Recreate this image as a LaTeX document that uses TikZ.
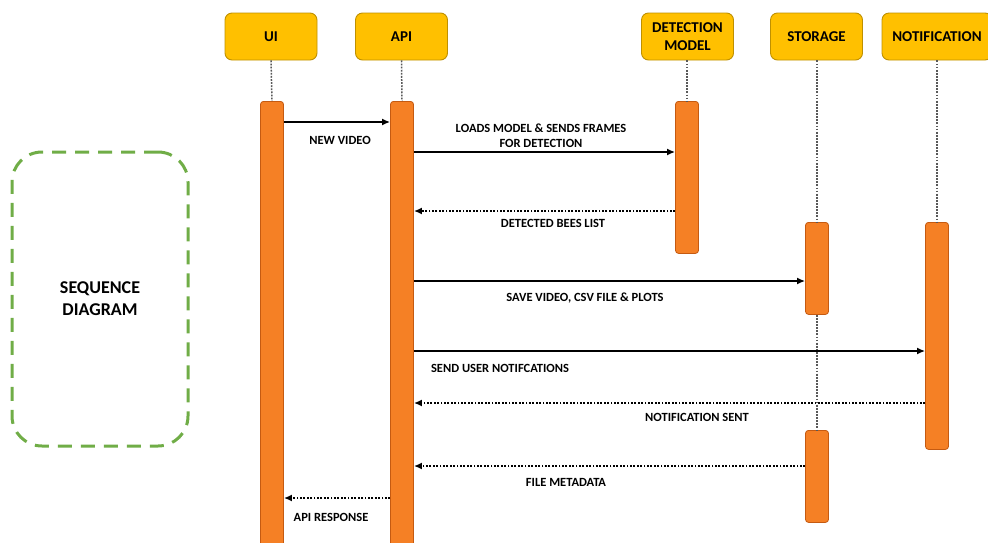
\documentclass[tikz,border=0pt]{standalone}
\usepackage{fontspec}
\setmainfont{Carlito}
\usetikzlibrary{arrows.meta,positioning}

\definecolor{boxfill}{HTML}{FFC000}
\definecolor{boxedge}{HTML}{BF9000}
\definecolor{barfill}{HTML}{F58025}
\definecolor{baredge}{HTML}{C55A11}
\definecolor{framegreen}{HTML}{70AD47}

\begin{document}
\begin{tikzpicture}[x=1pt,y=-1pt,
    actor/.style={draw=boxedge,fill=boxfill,rounded corners=7pt,line width=0.9pt,
        minimum width=92pt,minimum height=47pt,inner sep=2pt,align=center,
        font=\bfseries\fontsize{15}{16}\selectfont},
    bar/.style={draw=baredge,fill=barfill,rounded corners=3pt,line width=0.8pt,
        minimum width=23pt,inner sep=0pt,anchor=north},
    life/.style={draw=black!65,line width=1.5pt,dash pattern=on 1.8pt off 1.3pt},
    msg/.style={-{Latex[length=8pt,width=7pt]},line width=1.8pt},
    reply/.style={msg,dash pattern=on 1.8pt off 1.6pt},
    lbl/.style={align=center,font=\bfseries\fontsize{12.5}{15}\selectfont},
    frame/.style={draw=framegreen,line width=3pt,dash pattern=on 14pt off 9pt,
        rounded corners=30pt,minimum width=176pt,minimum height=294pt,
        align=center,font=\bfseries\fontsize{18}{22}\selectfont}]
    \useasboundingbox (0,0) rectangle (988,542);

    % participants
    \node[actor] (ui) at (271,36.5) {UI};
    \node[actor] (api) at (401.5,36.5) {API};
    \node[actor] (det) at (687.5,36.5) {DETECTION\\[2pt]MODEL};
    \node[actor] (sto) at (816.5,36.5) {STORAGE};
    \node[actor,minimum width=110pt] (note) at (937,36.5) {NOTIFICATION};

    % activation bars
    \node[bar,minimum height=450pt] (uibar) at (272,101) {};
    \node[bar,minimum height=450pt] (apibar) at (402,101) {};
    \node[bar,minimum height=152pt] (detbar) at (687,101) {};
    \node[bar,minimum height=92pt] (stobar) at (817,222) {};
    \node[bar,minimum height=92pt] (stobarb) at (817,430) {};
    \node[bar,minimum height=227pt] (notebar) at (937,222) {};

    % lifelines
    \draw[life] (ui.south) -- (uibar.north);
    \draw[life] (api.south) -- (apibar.north);
    \draw[life] (det.south -| detbar.north) -- (detbar.north);
    \draw[life] (sto.south -| stobar.north) -- (stobar.north);
    \draw[life] (stobar.south) -- (stobarb.north);
    \draw[life] (note.south) -- (notebar.north);

    % messages
    \draw[msg] (uibar.east |- 0,122) -- (apibar.west |- 0,122);
    \draw[msg] (apibar.east |- 0,152) -- (detbar.west |- 0,152);
    \draw[reply] (detbar.west |- 0,211) -- (apibar.east |- 0,211);
    \draw[msg] (apibar.east |- 0,281) -- (stobar.west |- 0,281);
    \draw[msg] (apibar.east |- 0,351) -- (notebar.west |- 0,351);
    \draw[reply] (notebar.west |- 0,403) -- (apibar.east |- 0,403);
    \draw[reply] (stobarb.west |- 0,466) -- (apibar.east |- 0,466);
    \draw[reply] (apibar.west |- 0,498) -- (uibar.east |- 0,498);

    % labels
    \node[lbl] (l1) at (340,140) {NEW VIDEO};
    \node[lbl] (l2) at (541,135.5) {LOADS MODEL \& SENDS FRAMES\\FOR DETECTION};
    \node[lbl] (l3) at (553,223) {DETECTED BEES LIST};
    \node[lbl] (l4) at (585,298) {SAVE VIDEO, CSV FILE \& PLOTS};
    \node[lbl] (l5) at (500,368) {SEND USER NOTIFCATIONS};
    \node[lbl] (l6) at (697,417) {NOTIFICATION SENT};
    \node[lbl] (l7) at (566,482) {FILE METADATA};
    \node[lbl] (l8) at (331,517) {API RESPONSE};

    % side frame
    \node[frame] (title) at (100,299) {SEQUENCE\\DIAGRAM};
\end{tikzpicture}
\end{document}
